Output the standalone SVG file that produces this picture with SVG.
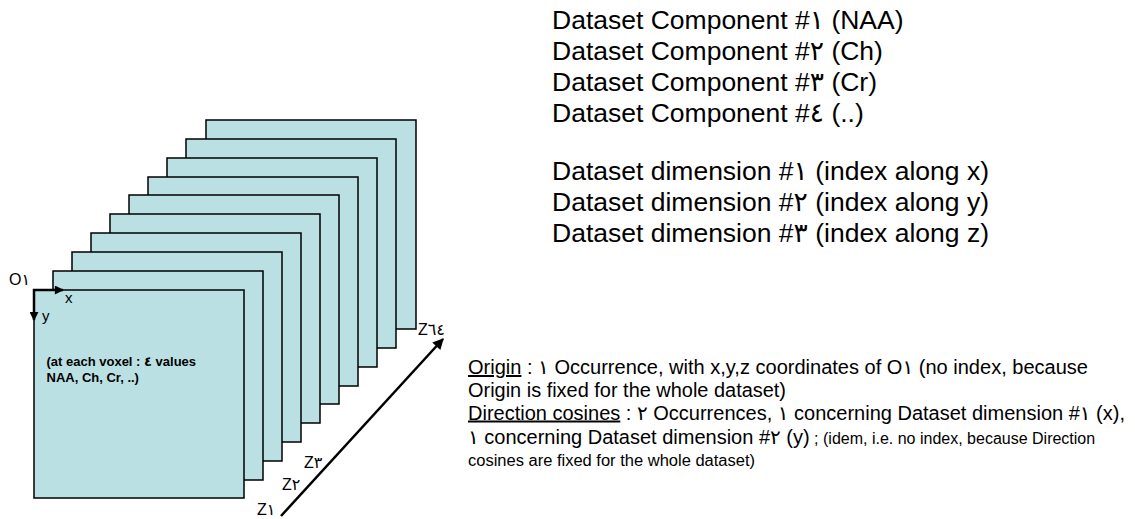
<svg xmlns="http://www.w3.org/2000/svg" width="1135" height="519" viewBox="0 0 1135 519">
<defs>
<style>
.t{font-family:"Liberation Sans","DejaVu Sans",sans-serif;fill:#000}
.slice{fill:#BBE0E3;stroke:#000;stroke-width:1.5}
.ax{stroke:#000;stroke-width:2.5;fill:none}
.big{font-size:26.5px}
.mid{font-size:20px}
.sm{font-size:16px}
.u{text-decoration:underline}
</style>
<marker id="ah" viewBox="0 0 10 10" refX="9" refY="5" markerWidth="10" markerHeight="9" orient="auto" markerUnits="userSpaceOnUse">
<path d="M0,0 L10,5 L0,10 z" fill="#000"/>
</marker>
<marker id="ah2" viewBox="0 0 10 10" refX="9" refY="5" markerWidth="13" markerHeight="11" orient="auto" markerUnits="userSpaceOnUse">
<path d="M0,0 L10,5 L0,10 z" fill="#000"/>
</marker>
</defs>
<rect width="1135" height="519" fill="#fff"/>
<g id="slices">
<rect class="slice" x="206" y="120" width="210" height="209"/>
<rect class="slice" x="186" y="139" width="210" height="209"/>
<rect class="slice" x="167" y="158" width="210" height="209"/>
<rect class="slice" x="148" y="177" width="210" height="209"/>
<rect class="slice" x="129" y="195" width="210" height="209"/>
<rect class="slice" x="110" y="214" width="210" height="209"/>
<rect class="slice" x="91" y="233" width="210" height="209"/>
<rect class="slice" x="72" y="252" width="210" height="209"/>
<rect class="slice" x="53" y="271" width="210" height="209"/>
<rect class="slice" x="34" y="290" width="210" height="208"/>
<text class="t" x="46.5" y="366" font-size="13" font-weight="bold">(at each voxel : ٤ values</text>
<text class="t" x="46.5" y="382" font-size="13" font-weight="bold">NAA, Ch, Cr, ..)</text>
</g>
<g id="connectors">
<line class="ax" x1="33" y1="290" x2="63" y2="290" marker-end="url(#ah)"/>
<line class="ax" x1="34" y1="289" x2="34" y2="320" marker-end="url(#ah)"/>
<line class="ax" x1="281" y1="516" x2="443" y2="339" stroke-width="2" marker-end="url(#ah2)"/>
</g>
<g id="axis-labels" class="t" font-size="16">
<text x="9" y="285">O١</text>
<text x="65" y="303" font-size="15">x</text>
<text x="42" y="321" font-size="15">y</text>
<text x="257" y="515">Z١</text>
<text x="282" y="490">Z٢</text>
<text x="304" y="468">Z٣</text>
<text x="418" y="335">Z٦٤</text>
</g>
<g id="components" class="t big">
<text x="552" y="28.5">Dataset Component #١ (NAA)</text>
<text x="552" y="59.5">Dataset Component #٢ (Ch)</text>
<text x="552" y="90.5">Dataset Component #٣ (Cr)</text>
<text x="552" y="121.5">Dataset Component #٤ (..)</text>
</g>
<g id="dimensions" class="t big">
<text x="552" y="180">Dataset dimension #١ (index along x)</text>
<text x="552" y="211">Dataset dimension #٢ (index along y)</text>
<text x="552" y="242">Dataset dimension #٣ (index along z)</text>
</g>
<g id="notes" class="t">
<text class="mid" x="468" y="374" textLength="620" lengthAdjust="spacingAndGlyphs"><tspan class="u">Origin</tspan> : ١ Occurrence, with x,y,z coordinates of O١ (no index, because</text>
<text class="mid" x="468" y="396.5" textLength="318" lengthAdjust="spacingAndGlyphs">Origin is fixed for the whole dataset)</text>
<text class="mid" x="468" y="419.5" textLength="657" lengthAdjust="spacingAndGlyphs"><tspan class="u">Direction cosines</tspan> : ٢ Occurrences, ١ concerning Dataset dimension #١ (x),</text>
<text x="468" y="444"><tspan class="mid">١ concerning Dataset dimension #٢ (y)</tspan><tspan class="sm"> ; (idem, i.e. no index, because Direction</tspan></text>
<text class="sm" x="468" y="466" textLength="287" lengthAdjust="spacingAndGlyphs">cosines are fixed for the whole dataset)</text>
</g>
</svg>
